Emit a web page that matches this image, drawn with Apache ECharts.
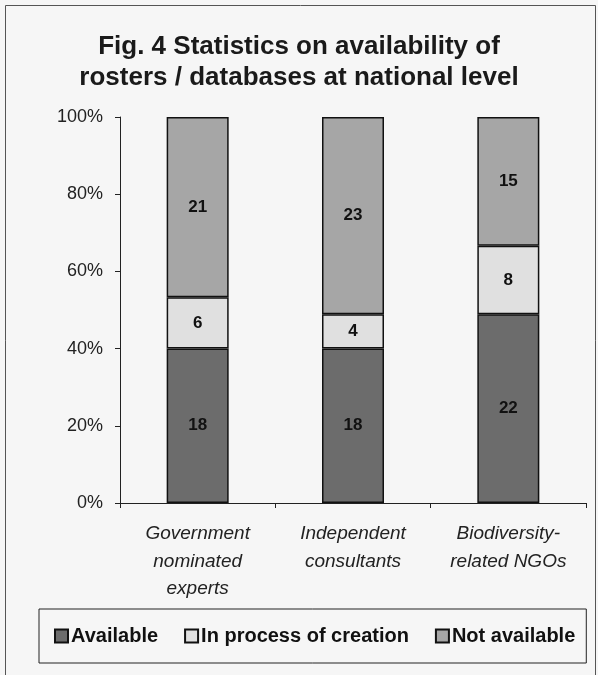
<!DOCTYPE html>
<html lang="en">
<head>
    <meta charset="UTF-8">
    <title>Fig. 4</title>
    <script type="text/javascript" src="https://cdn.jsdelivr.net/npm/echarts@6/dist/echarts.min.js"></script>
    <style>
        html, body { margin: 0; padding: 0; background: #f6f6f6; }
        #main { width: 598px; height: 675px; }
    </style>
</head>
<body>
<div id="main"></div>
<script>
    var categories = ['Government\nnominated\nexperts', 'Independent\nconsultants', 'Biodiversity-\nrelated NGOs']
    var available = [18, 18, 22]
    var inProcess = [6, 4, 8]
    var notAvailable = [21, 23, 15]
    var yTicks = [0, 20, 40, 60, 80, 100]

    var totals = []
    for (var i = 0; i < categories.length; i++) {
        totals.push(available[i] + inProcess[i] + notAvailable[i])
    }
    // counts -> share of the bar, keep the count for the label
    function toPct(arr) {
        var out = []
        for (var i = 0; i < arr.length; i++) {
            out.push({ value: arr[i] / totals[i] * 100, count: arr[i] })
        }
        return out
    }

    var chart = echarts.init(document.getElementById('main'))
    var font = 'Liberation Sans, Arial, sans-serif'

    function bar(name, data, color) {
        return {
            name: name,
            type: 'bar',
            stack: 'all',
            barWidth: 62,
            data: toPct(data),
            itemStyle: { color: color, borderColor: '#111', borderWidth: 1.5 },
            label: {
                show: true,
                position: 'inside',
                fontFamily: font,
                fontWeight: 'bold',
                fontSize: 17,
                color: '#111',
                formatter: function (p) { return p.data.count }
            }
        }
    }

    var option = {
        backgroundColor: '#f6f6f6',
        animation: false,
        textStyle: { fontFamily: font },
        title: {
            text: 'Fig. 4 Statistics on availability of\nrosters / databases at national level',
            left: 'center',
            top: 26,
            textStyle: { fontFamily: font, fontWeight: 'bold', fontSize: 26, lineHeight: 31, color: '#1a1a1a' }
        },
        graphic: [{
            type: 'rect',
            shape: { x: 5.5, y: 5.5, width: 590, height: 680 },
            style: { fill: 'none', stroke: '#555', lineWidth: 1 },
            silent: true
        }],
        legend: {
            left: 39,
            top: 609,
            padding: [17, 11, 17, 15],
            borderColor: '#222',
            borderWidth: 1,
            itemGap: 26,
            itemWidth: 13,
            itemHeight: 13,
            icon: 'rect',
            textStyle: { fontFamily: font, fontWeight: 'bold', fontSize: 20, color: '#111', padding: [0, 0, 0, -2] },
            data: ['Available', 'In process of creation', 'Not available']
        },
        grid: { left: 120, right: 12, top: 117, bottom: 172 },
        xAxis: {
            type: 'category',
            data: categories,
            axisLine: { lineStyle: { color: '#222', width: 1 } },
            axisTick: { show: true, length: 5, lineStyle: { color: '#222' } },
            axisLabel: {
                interval: 0,
                margin: 17,
                fontFamily: font,
                fontStyle: 'italic',
                fontSize: 19,
                lineHeight: 27.5,
                color: '#222'
            }
        },
        yAxis: {
            type: 'value',
            min: 0,
            max: 100,
            interval: 20,
            axisLine: { show: true, lineStyle: { color: '#222', width: 1 } },
            axisTick: { show: true, length: 5, lineStyle: { color: '#222' } },
            splitLine: { show: false },
            axisLabel: {
                margin: 17,
                fontFamily: font,
                fontSize: 18,
                color: '#222',
                customValues: yTicks,
                formatter: '{value}%'
            }
        },
        series: [
            bar('Available', available, '#6c6c6c'),
            bar('In process of creation', inProcess, '#e0e0e0'),
            bar('Not available', notAvailable, '#a6a6a6')
        ]
    }

    chart.setOption(option)
</script>
</body>
</html>
